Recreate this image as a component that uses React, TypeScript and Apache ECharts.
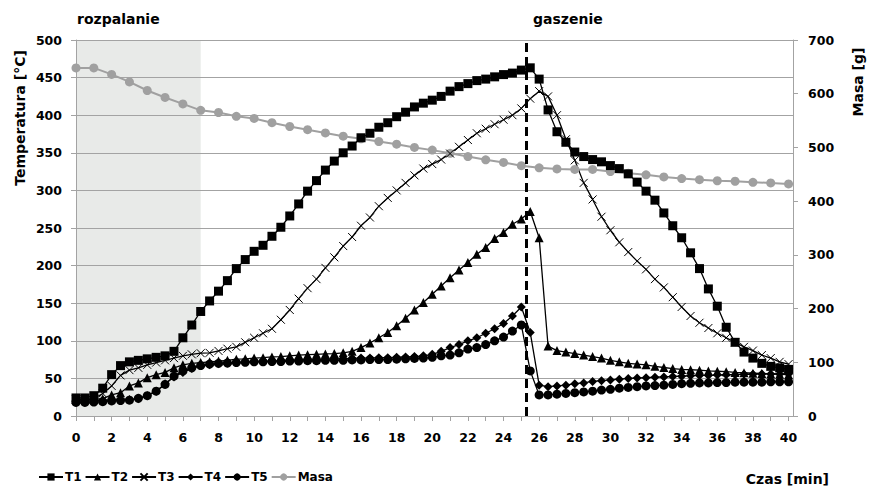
import React, { useEffect, useRef } from "react";
import * as echarts from "echarts";

const TIME = [
  0, 0.5, 1, 1.5, 2, 2.5, 3, 3.5, 4, 4.5, 5, 5.5, 6, 6.5, 7, 7.5, 8, 8.5, 9, 9.5,
  10, 10.5, 11, 11.5, 12, 12.5, 13, 13.5, 14, 14.5, 15, 15.5, 16, 16.5, 17, 17.5, 18, 18.5, 19, 19.5,
  20, 20.5, 21, 21.5, 22, 22.5, 23, 23.5, 24, 24.5, 25, 25.5, 26, 26.5, 27, 27.5, 28, 28.5, 29, 29.5,
  30, 30.5, 31, 31.5, 32, 32.5, 33, 33.5, 34, 34.5, 35, 35.5, 36, 36.5, 37, 37.5, 38, 38.5, 39, 39.5, 40,
];

const T1 = [
  24, 24, 27, 37, 55, 67, 72, 74, 76, 78, 80, 86, 104, 121, 139, 153, 166, 180, 196, 208,
  219, 227, 239, 251, 266, 282, 299, 313, 327, 339, 350, 359, 370, 376, 384, 390, 398, 404, 411, 416,
  420, 425, 432, 438, 442, 446, 448, 451, 454, 456, 460, 463, 448, 407, 378, 364, 351, 345, 341, 338,
  333, 329, 322, 311, 299, 287, 270, 253, 237, 217, 196, 169, 146, 118, 98, 85, 77, 70, 66, 64, 62,
];

const T2 = [
  22, 22, 22, 23, 28, 31, 40, 44, 51, 55, 58, 64, 68, 70, 71, 72, 73, 74, 75.5, 76,
  77, 77.5, 78.5, 79, 80, 81, 81.5, 82, 82.5, 83, 84, 86, 91, 97, 104, 111, 120, 130, 141, 151,
  162, 173, 184, 194, 204, 215, 224, 236, 244, 255, 262, 272, 237, 93, 87, 85, 83, 81, 79, 77,
  74, 72, 70, 69, 68, 66, 64.5, 63, 62, 61.5, 61, 60, 59.5, 59, 58, 57.5, 57, 56.5, 56, 55.5, 55,
];

const T3 = [
  22, 22, 23, 30, 40, 54, 61, 64, 68, 71, 74, 77, 80, 82, 83.5, 84, 86.5, 89.5, 92, 98,
  104, 110, 116, 128, 141, 156, 170, 182, 197, 211, 226, 238, 253, 264, 279, 290, 300, 310, 320, 329,
  335, 341, 349, 358, 367, 376, 382, 388, 394, 400, 409, 422, 432, 425, 400, 368, 340, 310, 288, 265,
  247, 231, 218, 206, 195, 182, 171, 158, 145, 133, 124, 117, 110, 104, 98, 92, 87, 81, 77, 72, 69,
];

const T4 = [
  20, 20, 20, 21, 21, 22, 22, 23, 27, 33, 43, 52, 58, 63, 67, 68, 69.5, 70, 71, 72,
  72.5, 73, 73, 73.5, 74, 74.5, 75, 75, 75.5, 76, 76, 76.5, 77, 77, 77.5, 77.5, 78, 78.5, 79, 80,
  82, 86, 91, 95, 100, 104, 110, 116, 123, 133, 145, 111, 41, 39, 40, 41, 43, 44, 46, 47,
  48, 49, 50, 50.5, 51, 51.5, 52, 52.5, 53, 53.5, 54, 54, 54.5, 55, 55, 55.5, 55.5, 56, 56, 56, 56,
];

const T5 = [
  18, 18, 18.5, 19, 20, 20.5, 21, 23.5, 27, 33, 42, 53, 60, 64, 67, 69, 70, 70.5, 71, 71.5,
  72, 72, 72.5, 72.5, 73, 73, 73.5, 73.5, 74, 74, 74, 74.5, 74.5, 75, 75, 75, 75.5, 76, 76.5, 77,
  78, 80, 81, 84, 89, 91, 95, 100, 105, 113, 121, 60, 28, 28, 29, 30, 31, 32, 33, 34.5,
  35.5, 37, 38, 39, 40, 40.5, 41, 42, 43, 43.5, 44, 44, 44.5, 44.5, 45, 45, 45, 45, 45.5, 45.5, 45.5,
];

const MASS_TIME = [
  0, 1, 2, 3, 4, 5, 6, 7, 8, 9, 10, 11, 12, 13, 14, 15, 16, 17, 18, 19, 20,
  21, 22, 23, 24, 25, 26, 27, 28, 29, 30, 31, 32, 33, 34, 35, 36, 37, 38, 39, 40,
];
const MASA = [
  648, 648, 636, 622, 606, 593, 581, 569, 565, 558, 554, 546, 539, 533, 527, 521, 516, 511, 506, 500, 495,
  489, 483, 477, 472, 466, 462, 460, 459, 459, 455, 452, 449, 445, 442, 440, 438, 437, 435, 434, 432,
];

const PHASE_START = 0;
const PHASE_END = 7;
const QUENCH_TIME = 25.25;

const FONT = "'DejaVu Sans', 'Open Sans', sans-serif";
const GRID_COLOR = "#a3a3a3";

export default function App() {
  const ref = useRef<HTMLDivElement>(null);

  useEffect(() => {
    if (!ref.current) return;
    const chart = echarts.init(ref.current, undefined, { renderer: "svg" });

    const pair = (xs: number[], ys: number[]) => xs.map((x, i) => [x, ys[i]]);
    const blackLine = { color: "#000", width: 1.3 };
    const tickLabel = { fontFamily: FONT, fontWeight: "bold", fontSize: 12.5, color: "#000" };
    const nameStyle = { fontFamily: FONT, fontWeight: "bold", fontSize: 14, fill: "#000" };

    const option: any = {
      animation: false,
      textStyle: { fontFamily: FONT },
      grid: { left: 76, right: 78, top: 40, bottom: 75, containLabel: false },
      legend: {
        data: ["T1", "T2", "T3", "T4", "T5", "Masa"],
        left: 38,
        top: 471,
        padding: 0,
        itemWidth: 24,
        itemHeight: 9,
        itemGap: 3,
        textStyle: { fontFamily: FONT, fontWeight: "bold", fontSize: 12, color: "#000", padding: [0, 0, 0, -3] },
      },
      xAxis: {
        type: "value",
        min: 0,
        max: 40.25,
        interval: 1,
        axisLine: { show: true, lineStyle: { color: GRID_COLOR, width: 1 } },
        axisTick: { show: true, length: 5, lineStyle: { color: GRID_COLOR } },
        axisLabel: {
          ...tickLabel,
          margin: 15,
          showMaxLabel: false,
          formatter: (v: number) => (Number.isInteger(v) && v % 2 === 0 ? String(v) : ""),
        },
        splitLine: { show: false },
      },
      yAxis: [
        {
          type: "value",
          min: 0,
          max: 500,
          interval: 50,
          axisLine: { show: true, lineStyle: { color: GRID_COLOR } },
          axisTick: { show: true, length: 5, lineStyle: { color: GRID_COLOR } },
          axisLabel: { ...tickLabel, margin: 14 },
          splitLine: { show: true, lineStyle: { color: GRID_COLOR, width: 1 } },
        },
        {
          type: "value",
          min: 0,
          max: 700,
          interval: 100,
          position: "right",
          axisLine: { show: true, lineStyle: { color: GRID_COLOR } },
          axisTick: { show: true, length: 5, lineStyle: { color: GRID_COLOR } },
          axisLabel: { ...tickLabel, margin: 15 },
          splitLine: { show: false },
        },
      ],
      graphic: [
        {
          type: "text",
          x: 77,
          y: 19,
          style: { ...nameStyle, text: "rozpalanie", align: "left", verticalAlign: "middle" },
        },
        {
          type: "text",
          x: 533,
          y: 19,
          style: { ...nameStyle, text: "gaszenie", align: "left", verticalAlign: "middle" },
        },
        {
          type: "text",
          x: 19.5,
          y: 118,
          rotation: Math.PI / 2,
          style: { ...nameStyle, text: "Temperatura [°C]", align: "center", verticalAlign: "middle" },
        },
        {
          type: "text",
          x: 858,
          y: 82,
          rotation: Math.PI / 2,
          style: { ...nameStyle, text: "Masa [g]", align: "center", verticalAlign: "middle" },
        },
        {
          type: "text",
          x: 829,
          y: 479,
          style: { ...nameStyle, text: "Czas [min]", align: "right", verticalAlign: "middle" },
        },
      ],
      series: [
        {
          name: "phase",
          type: "line",
          z: -1,
          data: [[0, 0]],
          symbol: "none",
          lineStyle: { opacity: 0 },
          silent: true,
          markArea: {
            silent: true,
            z: -10,
            itemStyle: { color: "rgba(190,195,190,0.35)" },
            data: [[{ xAxis: PHASE_START }, { xAxis: PHASE_END }]],
          },
        },
        {
          name: "Masa",
          type: "line",
          yAxisIndex: 1,
          data: pair(MASS_TIME, MASA),
          symbol: "circle",
          symbolSize: 9,
          showAllSymbol: true,
          lineStyle: { color: "#a0a0a0", width: 2 },
          itemStyle: { color: "#a0a0a0", borderColor: "#a0a0a0", borderWidth: 0 },
        },
        {
          name: "T1",
          type: "line",
          data: pair(TIME, T1),
          symbol: "rect",
          symbolSize: 9,
          showAllSymbol: true,
          lineStyle: blackLine,
          itemStyle: { color: "#000", borderWidth: 0 },
          markLine: {
            silent: true,
            symbol: ["none", "none"],
            label: { show: false },
            lineStyle: { color: "#000", width: 3, type: [9, 5] },
            data: [{ xAxis: QUENCH_TIME }],
          },
        },
        {
          name: "T2",
          type: "line",
          data: pair(TIME, T2),
          symbol: "triangle",
          symbolSize: 9,
          showAllSymbol: true,
          lineStyle: blackLine,
          itemStyle: { color: "#000", borderWidth: 0 },
        },
        {
          name: "T3",
          type: "line",
          data: pair(TIME, T3),
          symbol: "path://M0,0L10,10M10,0L0,10",
          symbolSize: 8,
          showAllSymbol: true,
          lineStyle: blackLine,
          itemStyle: { color: "#000", borderColor: "#000", borderWidth: 1 },
        },
        {
          name: "T4",
          type: "line",
          data: pair(TIME, T4),
          symbol: "diamond",
          symbolSize: 9,
          showAllSymbol: true,
          lineStyle: blackLine,
          itemStyle: { color: "#000", borderWidth: 0 },
        },
        {
          name: "T5",
          type: "line",
          data: pair(TIME, T5),
          symbol: "circle",
          symbolSize: 9,
          showAllSymbol: true,
          lineStyle: blackLine,
          itemStyle: { color: "#000", borderWidth: 0 },
        },
      ],
    };

    chart.setOption(option);
    return () => chart.dispose();
  }, []);

  return <div ref={ref} style={{ width: 871, height: 491, position: "absolute", left: 0, top: 0 }} />;
}
